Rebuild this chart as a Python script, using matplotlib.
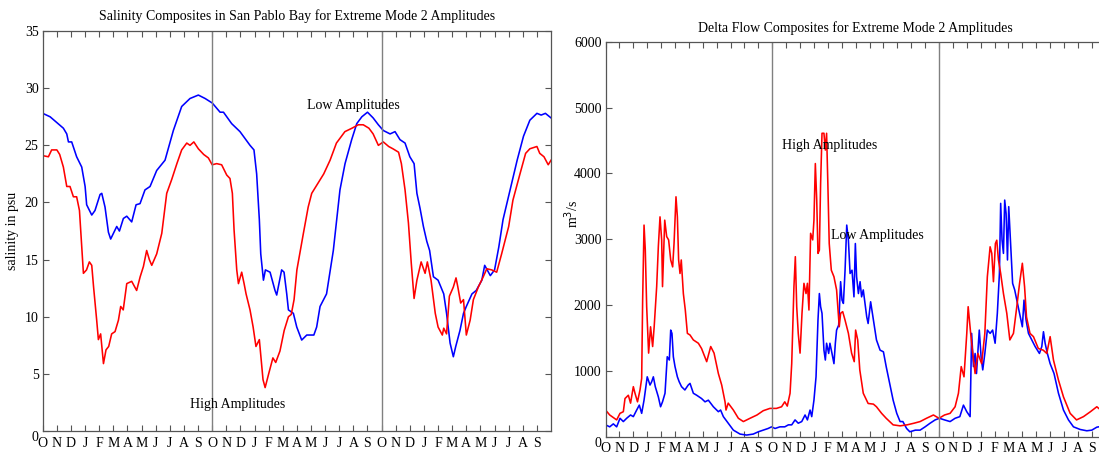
import numpy as np
import matplotlib
matplotlib.use("Agg")
import matplotlib.pyplot as plt

plt.rcParams['font.family'] = ['Liberation Serif', 'DejaVu Serif']
plt.rcParams['font.size'] = 10

# month labels, Oct..Sep for three water years
month_labels = ['O', 'N', 'D', 'J', 'F', 'M', 'A', 'M', 'J', 'J', 'A', 'S'] * 3

# salinity (psu), x in months from start of October
sal_low_m = [0, 0.52, 1.46, 1.7, 1.82, 2.05, 2.4, 2.76, 3.0, 3.11, 3.47, 3.7, 4.06, 4.18, 4.41, 4.65, 4.81, 5.24,
             5.43, 5.71, 5.95, 6.3, 6.61, 6.89, 7.24, 7.6, 8.07, 8.66, 9.25, 9.84, 10.43, 11.02, 11.5, 12.01, 12.56,
             12.8, 13.38, 13.97, 14.68, 14.96, 15.15, 15.34, 15.44, 15.63, 15.77, 16.1, 16.45, 16.57, 16.92, 17.09,
             17.28, 17.4, 17.75, 17.99, 18.34, 18.7, 19.2, 19.4, 19.64, 20.1, 20.58, 21.05, 21.41, 21.88, 22.24, 22.6,
             23.0, 23.4, 23.77, 24.12, 24.6, 24.95, 25.3, 25.66, 26.0, 26.3, 26.5, 26.72, 26.96, 27.2, 27.4, 27.67,
             28.0, 28.4, 28.6, 28.85, 29.08, 29.25, 29.55, 29.8, 30.0, 30.4, 30.7, 31.1, 31.3, 31.7, 32.0, 32.3,
             32.6, 33.1, 33.6, 34.05, 34.5, 35.0, 35.3, 35.6, 35.9, 36.0]
sal_low_v = [27.8, 27.5, 26.5, 26.0, 25.3, 25.3, 24.0, 23.1, 21.4, 19.8, 18.9, 19.3, 20.7, 20.8, 19.6, 17.4, 16.8, 17.9,
             17.5, 18.6, 18.8, 18.3, 19.8, 19.9, 21.1, 21.4, 22.8, 23.7, 26.3, 28.4, 29.1, 29.4, 29.1, 28.7, 27.9,
             27.9, 26.9, 26.2, 25.0, 24.6, 22.5, 18.5, 15.5, 13.2, 14.1, 13.9, 12.3, 11.9, 14.1, 13.9,
             12.0, 10.6, 10.3, 9.1, 7.96, 8.4, 8.4, 9.1, 10.9, 12.0, 15.8, 21.1, 23.4, 25.5, 26.9, 27.5,
             27.9, 27.4, 26.8, 26.3, 26.0, 26.2, 25.5, 25.2, 24.0, 23.4, 20.8, 19.5, 17.9, 16.6, 15.8, 13.5,
             13.2, 12.0, 10.3, 7.7, 6.5, 7.4, 8.8, 10.3, 10.9, 12.0, 12.3, 13.2, 14.5, 13.6, 14.1, 16.1,
             18.5, 21.1, 23.7, 25.8, 27.2, 27.8, 27.65, 27.8, 27.5, 27.4]

sal_high_m = [0, 0.4, 0.63, 1.0, 1.2, 1.46, 1.7, 1.93, 2.17, 2.4, 2.6, 2.76, 2.88, 3.1, 3.3, 3.47, 3.6, 3.82, 3.94,
              4.1, 4.3, 4.48, 4.67, 4.88, 5.12, 5.36, 5.52, 5.7, 5.95, 6.3, 6.65, 6.9, 7.13, 7.36, 7.55, 7.72, 8.07,
              8.43, 8.78, 9.13, 9.5, 9.84, 10.2, 10.43, 10.7, 11.02, 11.4, 11.73, 12.0, 12.32, 12.67, 13.03, 13.26,
              13.43, 13.55, 13.74, 13.86, 14.09, 14.26, 14.4, 14.68, 14.9, 15.1, 15.34, 15.5, 15.6, 15.75, 16.0,
              16.3, 16.5, 16.8, 17.1, 17.4, 17.6, 17.8, 18.0, 18.46, 18.8, 19.05, 19.5, 19.9, 20.35, 20.8, 21.4,
              21.9, 22.35, 22.7, 23.1, 23.4, 23.77, 24.12, 24.5, 24.8, 25.2, 25.4, 25.66, 25.9, 26.1, 26.3, 26.5,
              26.8, 27.08, 27.24, 27.5, 27.8, 28.0, 28.3, 28.4, 28.6, 28.8, 29.08, 29.27, 29.4, 29.6, 29.8, 30.0,
              30.27, 30.5, 30.85, 31.2, 31.45, 31.8, 32.15, 32.5, 33.0, 33.3, 33.8, 34.2, 34.5, 35.0, 35.2, 35.5,
              35.8, 36.0]
sal_high_v = [24.1, 24.0, 24.6, 24.6, 24.2, 23.1, 21.4, 21.4, 20.5, 20.5, 19.3, 16.1, 13.8, 14.1, 14.8, 14.5, 12.6,
              9.7, 8.0, 8.5, 5.9, 7.1, 7.4, 8.5, 8.7, 9.7, 10.9, 10.6, 12.9, 13.1, 12.3, 13.5, 14.4, 15.8, 15.0,
              14.5, 15.5, 17.3, 20.8, 22.0, 23.4, 24.6, 25.2, 25.0, 25.3, 24.7, 24.2, 23.9, 23.3, 23.4, 23.3, 22.4,
              22.1, 20.8, 17.6, 14.1, 12.9, 13.9, 12.9, 12.0, 10.6, 9.1, 7.4, 8.0, 5.9, 4.5, 3.8, 5.0, 6.4, 6.0,
              7.0, 8.8, 10.0, 10.2, 11.5, 14.1, 17.3, 19.6, 20.8, 21.7, 22.5, 23.7, 25.2, 26.2, 26.5, 26.8, 26.8,
              26.5, 26.0, 25.0, 25.3, 24.9, 24.7, 24.4, 23.4, 21.1, 18.2, 14.7, 11.6, 13.2, 14.8, 13.8, 14.8, 13.2,
              10.3, 9.1, 8.4, 9.0, 8.5, 11.8, 12.6, 13.4, 12.6, 11.2, 11.5, 8.4, 9.7, 11.5, 12.6, 13.5, 14.2, 14.1,
              13.9, 15.5, 17.9, 20.2, 22.5, 24.3, 24.7, 24.9, 24.3, 24.0, 23.3, 23.7]

# delta flow (m3/s)
flow_high_m = [0, 0.3, 0.8, 1.04, 1.28, 1.4, 1.64, 1.8, 2.0, 2.12, 2.3, 2.48, 2.6, 2.67, 2.77, 2.86, 2.96, 3.1, 3.24,
               3.39, 3.5, 3.68, 3.8, 3.92, 4.04, 4.1, 4.26, 4.4, 4.54, 4.69, 4.83, 4.93, 5.07, 5.17, 5.26, 5.36,
               5.45, 5.6, 5.74, 5.89, 6.08, 6.32, 6.68, 6.91, 7.28, 7.57, 7.81, 8.12, 8.36, 8.6, 8.67, 8.83, 9.2,
               9.56, 9.92, 10.4, 10.9, 11.35, 11.83, 12.3, 12.67, 12.9, 13.08, 13.28, 13.4, 13.56, 13.66, 13.76,
               13.87, 14.0, 14.14, 14.28, 14.43, 14.53, 14.64, 14.76, 14.91, 15.0, 15.1, 15.2, 15.29, 15.39, 15.48,
               15.58, 15.72, 15.82, 15.91, 16.0, 16.1, 16.25, 16.44, 16.63, 16.82, 16.92, 17.07, 17.24, 17.48,
               17.71, 17.9, 18.0, 18.15, 18.3, 18.55, 18.9, 19.28, 19.5, 19.87, 20.2, 20.7, 21.2, 21.7, 22.2,
               22.64, 23.1, 23.6, 24.0, 24.4, 24.8, 25.16, 25.4, 25.6, 25.8, 26.0, 26.1, 26.28, 26.43, 26.6, 26.8,
               27.07, 27.3, 27.48, 27.68, 27.8, 27.92, 28.06, 28.16, 28.28, 28.44, 28.64, 28.88, 29.1, 29.36, 29.6,
               29.8, 30.0, 30.16, 30.3, 30.55, 30.8, 31.15, 31.5, 31.76, 32.0, 32.24, 32.6, 32.96, 33.44, 33.9,
               34.4, 34.9, 35.36, 35.5]
flow_high_v = [405, 330, 255, 355, 380, 580, 630, 510, 760, 660, 530, 710, 885, 2075, 3215, 2840, 1975, 1270, 1670,
               1370, 1670, 2280, 2890, 3340, 2990, 2280, 3290, 3040, 2990, 2685, 2580, 2935, 3645, 3340, 2685, 2480,
               2685, 2175, 1925, 1570, 1545, 1470, 1420, 1340, 1140, 1370, 1270, 960, 785, 530, 405, 510, 405,
               280, 230, 280, 330, 395, 430, 430, 455, 530, 465, 660, 1110, 2280, 2735, 1975,
               1570, 1270, 1875, 2330, 2175, 2330, 1925, 3090, 2990, 3290, 4150, 3595, 2785, 2835, 3850,
               4610, 4610, 4355, 4610, 3850, 2935, 2530, 2430, 2230, 1670, 1875, 1900, 1770, 1570,
               1270, 1140, 1620, 1470, 1015, 660, 505, 495, 455, 355, 280, 180, 165, 180, 205,
               230, 280, 330, 280, 330, 355, 455, 660, 1065, 910, 1570, 1975, 1570, 1265, 960, 1265,
               1110, 1570, 2430, 2885, 2785, 2355, 2935, 2985, 2685, 2480, 2175, 1875, 1470, 1570, 1975,
               2330, 2635, 2280, 1820, 1570, 1520, 1340, 1315, 1265, 1520, 1165, 860, 605, 355, 255,
               305, 380, 455, 430]

flow_low_m = [0, 0.3, 0.56, 0.8, 1.04, 1.28, 1.52, 1.8, 2.0, 2.24, 2.43, 2.6, 2.77, 2.9, 3.0, 3.2, 3.32, 3.44, 3.58,
              3.8, 3.96, 4.1, 4.28, 4.44, 4.59, 4.69, 4.78, 4.88, 5.0, 5.17, 5.3, 5.47, 5.71, 5.95, 6.08, 6.32,
              6.56, 6.91, 7.16, 7.4, 7.76, 8.12, 8.28, 8.48, 8.83, 9.2, 9.68, 10.15, 10.63, 11.0, 11.35, 11.7,
              11.95, 12.2, 12.55, 12.9, 13.16, 13.4, 13.64, 13.87, 14.12, 14.36, 14.53, 14.72, 14.84, 15.0, 15.15,
              15.29, 15.39, 15.48, 15.58, 15.72, 15.82, 15.91, 16.06, 16.15, 16.3, 16.44, 16.54, 16.63, 16.78,
              16.92, 17.02, 17.12, 17.24, 17.36, 17.48, 17.6, 17.74, 17.88, 17.98, 18.07, 18.2, 18.32, 18.43,
              18.55, 18.8, 18.9, 19.08, 19.28, 19.5, 19.76, 20.0, 20.2, 20.5, 20.7, 20.96, 21.2, 21.4, 21.67,
              21.9, 22.3, 22.64, 23.0, 23.36, 23.72, 24.03, 24.4, 24.8, 25.16, 25.5, 25.76, 26.0, 26.24, 26.35,
              26.48, 26.6, 26.7, 26.9, 27.03, 27.15, 27.3, 27.48, 27.68, 27.86, 28.04, 28.2, 28.35, 28.44, 28.54,
              28.64, 28.73, 28.83, 28.93, 29.02, 29.12, 29.2, 29.3, 29.45, 29.6, 29.8, 30.0, 30.12, 30.27, 30.44,
              30.68, 30.92, 31.23, 31.4, 31.52, 31.64, 31.8, 32.0, 32.28, 32.6, 32.96, 33.32, 33.68, 34.16, 34.64,
              35.0, 35.36, 35.5]
flow_low_v = [180, 150, 195, 150, 280, 230, 280, 330, 305, 405, 480, 355, 555, 760, 910, 785, 835, 910, 760,
              605, 455, 530, 660, 1215, 1165, 1620, 1570, 1215, 1065, 910, 835, 760, 710, 785, 810, 660,
              630, 580, 530, 555, 455, 380, 405, 305, 205, 100, 40, 25, 40, 75, 100, 125,
              150, 125, 150, 150, 180, 180, 255, 205, 230, 330, 255, 405, 305, 555, 910,
              1770, 2175, 1975, 1875, 1315, 1165, 1420, 1265, 1420, 1265, 1110, 1420, 1620, 1695,
              2355, 2075, 2025, 2530, 3215, 2985, 2480, 2530, 2125, 2935, 2430, 2175, 2355, 2125,
              2230, 1820, 1720, 2050, 1770, 1470, 1315, 1290, 1065, 760, 555, 355, 230, 230, 125,
              75, 100, 100, 150, 205, 255, 280, 255, 230, 280, 305, 480, 380, 305, 1570,
              1065, 1265, 960, 1620, 1215, 1015, 1265, 1620, 1570, 1620, 1420, 1875, 2480, 3545, 2985,
              2785, 3595, 3390, 2685, 3495, 3090, 2735, 2330, 2230, 2075, 1875, 1670, 2075, 1770, 1570,
              1470, 1370, 1265, 1370, 1595, 1420, 1265, 1110, 960, 660, 405, 255, 150, 110, 90,
              100, 145, 150]

spine_col = '#555555'
vline_col = '#808080'


def style_axes(ax, ymax, ystep):
    ax.set_xlim(0, 36)
    ax.set_ylim(0, ymax)
    ax.set_xticks(np.arange(36))
    ax.set_xticklabels(month_labels)
    ax.set_yticks(np.arange(0, ymax + 1, ystep))
    ax.tick_params(direction='in', length=4, width=0.8, color=spine_col, top=True, right=True,
                   labelsize=10)
    ax.tick_params(axis='x', pad=4)
    ax.tick_params(axis='y', pad=3)
    for s in ax.spines.values():
        s.set_color(spine_col)
        s.set_linewidth(0.9)
    for xv in [12, 24]:
        ax.axvline(xv, color=vline_col, lw=1.0)
    # the zero label sits a little lower, as in the original
    ax.get_yticklabels()[0].set_verticalalignment('top')


fig = plt.figure(figsize=(10.99, 4.55), dpi=100)

# left: salinity
ax1 = fig.add_axes([0.0389, 0.0527, 0.4625, 0.879])
ax1.plot(sal_low_m, sal_low_v, color='#0000ff', lw=1.15)
ax1.plot(sal_high_m, sal_high_v, color='#ff0000', lw=1.15)
style_axes(ax1, 35, 5)
ax1.set_title('Salinity Composites in San Pablo Bay for Extreme Mode 2 Amplitudes', fontsize=10, pad=8)
ax1.set_ylabel('salinity in psu', fontsize=10)
ax1.yaxis.set_label_coords(-0.047, 0.5)
ax1.text(18.74, 28.46, 'Low Amplitudes', fontsize=10, va='center', ha='left')
ax1.text(10.43, 2.36, 'High Amplitudes', fontsize=10, va='center', ha='left')

# right: delta flow
ax2 = fig.add_axes([0.5510, 0.0402, 0.4551, 0.868])
ax2.plot(flow_low_m, flow_low_v, color='#0000ff', lw=1.15)
ax2.plot(flow_high_m, flow_high_v, color='#ff0000', lw=1.15)
style_axes(ax2, 6000, 1000)
ax2.set_title('Delta Flow Composites for Extreme Mode 2 Amplitudes', fontsize=10, pad=7)
ax2.set_ylabel('m$^3$/s', fontsize=10)
ax2.yaxis.set_label_coords(-0.05, 0.565)
ax2.text(12.68, 4420, 'High Amplitudes', fontsize=10, va='center', ha='left')
ax2.text(16.25, 3064, 'Low Amplitudes', fontsize=10, va='center', ha='left')

fig.savefig('out.png', dpi=100)
